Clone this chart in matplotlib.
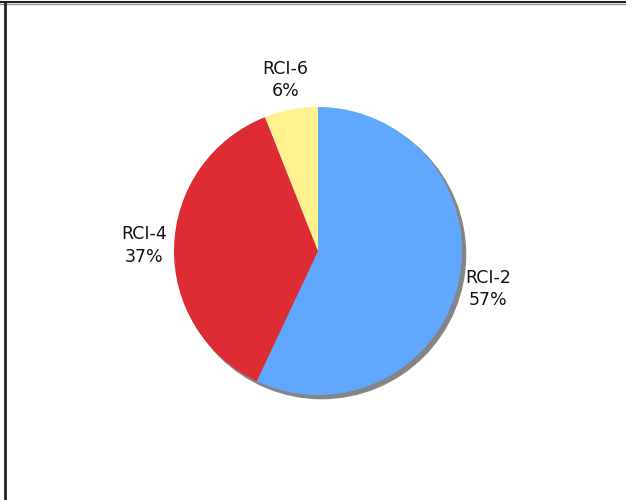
import matplotlib
matplotlib.use("Agg")
import matplotlib.pyplot as plt
from matplotlib.patches import Circle
from matplotlib.lines import Line2D

labels = ["RCI-2", "RCI-4", "RCI-6"]
shares = [57, 37, 6]
colors = ["#60a8ff", "#dd2c33", "#fff28e"]

W, H = 626, 500
cx, cy, r = 318, 251, 144  # pie centre / radius in pixels

fig = plt.figure(figsize=(W / 100, H / 100), dpi=100)
ax = fig.add_axes([0, 0, 1, 1])
ax.axis("off")

# shadow under the pie
ax.add_patch(Circle((0.025, -0.025), 1.0, color="#858585", zorder=0))

wedges, texts = ax.pie(shares, labels=[f"{l}\n{s}%" for l, s in zip(labels, shares)],
                       colors=colors, startangle=90, counterclock=False,
                       labeldistance=1.21, wedgeprops=dict(linewidth=0),
                       textprops=dict(fontsize=12.5, color="#111111",
                                      family="DejaVu Sans", linespacing=1.3))
for t in texts:
    t.set_ha("center")
    t.set_va("center")

ax.set_aspect("auto")
ax.set_xlim(-cx / r, (W - cx) / r)
ax.set_ylim(-(H - cy) / r, cy / r)

# frame lines on the top and left
fig.add_artist(Line2D([0, 1], [1 - 1.5 / H, 1 - 1.5 / H], color="#222222", lw=1.5,
                      transform=fig.transFigure))
fig.add_artist(Line2D([0, 1], [1 - 3.5 / H, 1 - 3.5 / H], color="#999999", lw=1,
                      transform=fig.transFigure))
fig.add_artist(Line2D([5 / W, 5 / W], [0, 1 - 1.5 / H], color="#222222", lw=2,
                      transform=fig.transFigure))

fig.savefig("out.png", dpi=100)
